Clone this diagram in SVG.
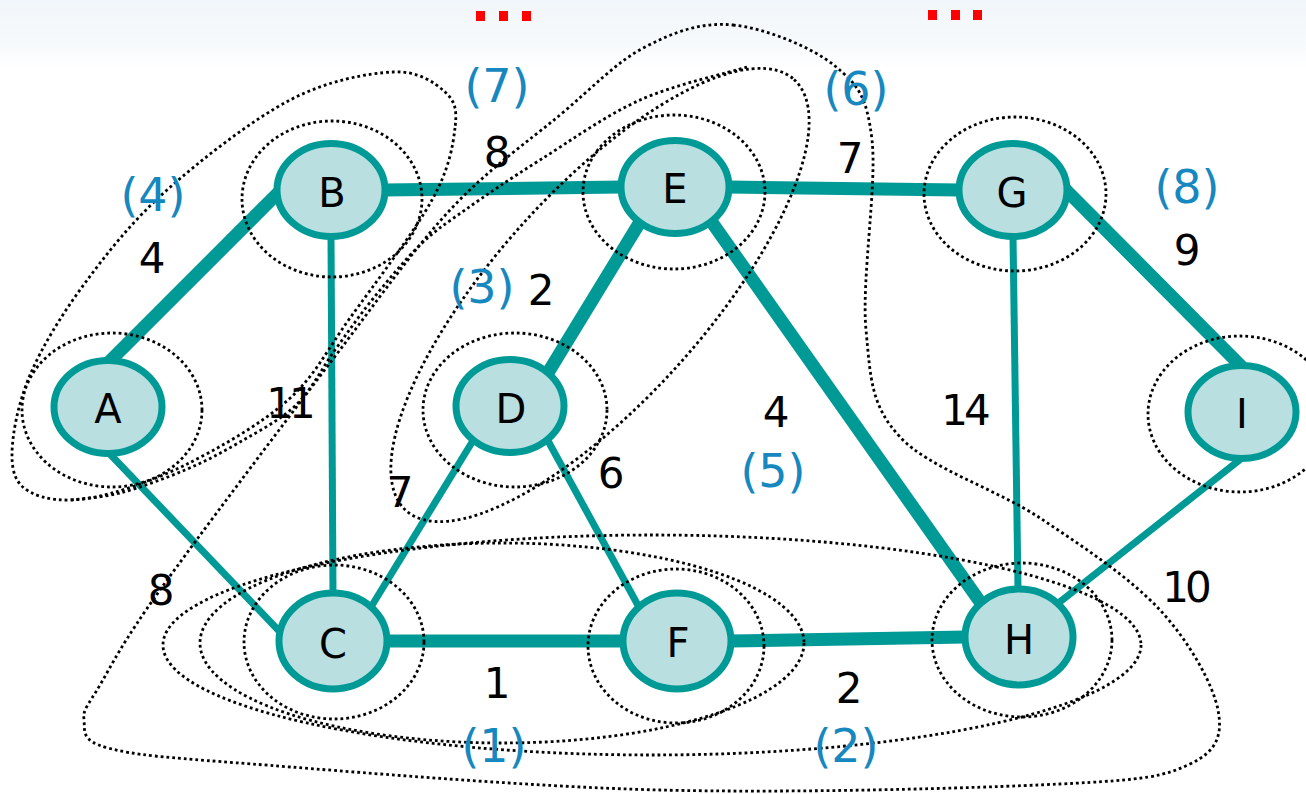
<svg xmlns="http://www.w3.org/2000/svg" width="1306" height="794" viewBox="0 0 1306 794">
<defs>
<linearGradient id="bg" x1="0" y1="0" x2="0" y2="1">
<stop offset="0" stop-color="#f1f6fa"/>
<stop offset="0.65" stop-color="#f7fafc"/>
<stop offset="1" stop-color="#ffffff"/>
</linearGradient>
<style>
.dot{fill:none;stroke:#000;stroke-width:2.8;stroke-dasharray:2.8 3}
.thick{stroke:#009a96;stroke-width:13;fill:none}
.thin{stroke:#009a96;stroke-width:7;fill:none}
.node ellipse{fill:#b9dfe1;stroke:#009a96;stroke-width:7}
.node text{font-family:"DejaVu Sans",sans-serif;font-size:40px;fill:#000;text-anchor:middle}
.w{font-family:"DejaVu Sans",sans-serif;font-size:42px;fill:#000;text-anchor:middle}
.w2{letter-spacing:-4px}
.s{font-family:"DejaVu Sans",sans-serif;font-size:46px;fill:#1787bf;text-anchor:middle}
.red{fill:#ff0000}
</style>
</defs>
<rect width="1306" height="794" fill="#ffffff"/>
<rect width="1306" height="70" fill="url(#bg)"/>
<g id="marks">
<rect class="red" x="476" y="11" width="9" height="10"/>
<rect class="red" x="499" y="11" width="9" height="10"/>
<rect class="red" x="522" y="11" width="9" height="10"/>
<rect class="red" x="928" y="10" width="9" height="10"/>
<rect class="red" x="951" y="10" width="9" height="10"/>
<rect class="red" x="973" y="10" width="9" height="10"/>
</g>
<g id="connectors">
<line class="thick" x1="108" y1="363" x2="281" y2="190"/>
<line class="thick" x1="384" y1="190" x2="622" y2="187"/>
<line class="thick" x1="728" y1="187" x2="960" y2="190"/>
<line class="thick" x1="640" y1="222" x2="546" y2="376"/>
<line class="thick" x1="711" y1="221" x2="983" y2="606"/>
<line class="thick" x1="1064" y1="188" x2="1242" y2="367"/>
<line class="thick" x1="386" y1="641" x2="624" y2="641"/>
<line class="thick" x1="730" y1="641" x2="966" y2="637"/>
<line class="thin" x1="331" y1="236" x2="333" y2="595"/>
<line class="thin" x1="108" y1="452" x2="281" y2="633"/>
<line class="thin" x1="371" y1="607" x2="474" y2="439"/>
<line class="thin" x1="547" y1="439" x2="640" y2="609"/>
<line class="thin" x1="1013" y1="236" x2="1018" y2="590"/>
<line class="thin" x1="1242" y1="458" x2="1056" y2="605"/>
</g>
<g id="contours">
<ellipse class="dot" cx="112" cy="410" rx="90" ry="77"/>
<ellipse class="dot" cx="332" cy="199" rx="90" ry="78"/>
<ellipse class="dot" cx="674" cy="192" rx="91" ry="77"/>
<ellipse class="dot" cx="515" cy="410" rx="92" ry="77"/>
<ellipse class="dot" cx="1015" cy="194" rx="91" ry="77"/>
<ellipse class="dot" cx="1240" cy="414" rx="92" ry="78"/>
<ellipse class="dot" cx="334" cy="642" rx="90" ry="77"/>
<ellipse class="dot" cx="676" cy="646" rx="88" ry="77"/>
<ellipse class="dot" cx="1022" cy="640" rx="90" ry="77"/>
<ellipse class="dot" cx="502" cy="643" rx="302" ry="100"/>
<ellipse class="dot" cx="652" cy="645" rx="489" ry="110"/>
<ellipse class="dot" cx="600" cy="295" rx="290" ry="105" transform="rotate(-48 600 295)"/>
<path class="dot" d="M455,128 C452.8,146 449.5,168.3 432,200 C414.5,231.7 374,284.7 350,318 C326,351.3 315.5,375.5 288,400 C260.5,424.5 218,448.7 185,465 C152,481.3 115.8,493.5 90,498 C64.2,502.5 43,499.2 30,492 C17,484.8 12,474.5 12,455 C12,435.5 17.8,403.7 30,375 C42.2,346.3 62.2,313.8 85,283 C107.8,252.2 132.8,220.5 167,190 C201.2,159.5 252.3,119.7 290,100 C327.7,80.3 367.2,73.3 393,72 C418.8,70.7 434.7,82.7 445,92 C455.3,101.3 457.2,110 455,128 Z"/>
<path class="dot" d="M747,67 C729.2,72.5 674.5,84.5 640,100 C605.5,115.5 569.2,141.7 540,160 C510.8,178.3 485,195.8 465,210 C445,224.2 435.5,230 420,245 C404.5,260 386.2,282.5 372,300 C357.8,317.5 347.7,332.5 335,350 C322.3,367.5 311.8,389.7 296,405 C280.2,420.3 258.5,431.2 240,442 C221.5,452.8 205,461.5 185,470 C165,478.5 139.2,488 120,493 C100.8,498 78.3,498.8 70,500"/>
<path class="dot" d="M733,25 C764.7,28.2 811.8,46.8 835,66 C858.2,85.2 866.8,96 872,140 C877.2,184 861.3,280.5 866,330 C870.7,379.5 871,405.7 900,437 C929,468.3 996.7,489.2 1040,518 C1083.3,546.8 1130.3,578 1160,610 C1189.7,642 1213,684.3 1218,710 C1223,735.7 1216.3,751.7 1190,764 C1163.7,776.3 1148.3,779.7 1060,784 C971.7,788.3 794.7,793.3 660,790 C525.3,786.7 344,771 252,764 C160,757 136,755.3 108,748 C80,740.7 85.3,730.5 84,720 C82.7,709.5 87.3,706.7 100,685 C112.7,663.3 121.7,643.7 160,590 C198.3,536.3 281.7,426.3 330,363 C378.3,299.7 411.7,251.3 450,210 C488.3,168.7 527.5,142.2 560,115 C592.5,87.8 616.2,62 645,47 C673.8,32 701.3,21.8 733,25 Z"/>
</g>
<g id="node-A" class="node"><ellipse cx="108" cy="407" rx="54" ry="46.5"/><text x="108" y="423">A</text></g>
<g id="node-B" class="node"><ellipse cx="331" cy="190" rx="54" ry="46.5"/><text x="332" y="207">B</text></g>
<g id="node-E" class="node"><ellipse cx="675" cy="187" rx="54" ry="46.5"/><text x="675" y="203">E</text></g>
<g id="node-G" class="node"><ellipse cx="1013" cy="190" rx="54" ry="46.5"/><text x="1012" y="207">G</text></g>
<g id="node-D" class="node"><ellipse cx="510" cy="406" rx="54" ry="46.5"/><text x="511" y="423">D</text></g>
<g id="node-I" class="node"><ellipse cx="1242" cy="412" rx="54" ry="46.5"/><text x="1242" y="428">I</text></g>
<g id="node-C" class="node"><ellipse cx="333" cy="641" rx="54" ry="48"/><text x="333" y="658">C</text></g>
<g id="node-F" class="node"><ellipse cx="677" cy="641" rx="54" ry="48"/><text x="678" y="657">F</text></g>
<g id="node-H" class="node"><ellipse cx="1019" cy="637" rx="54" ry="48"/><text x="1019" y="654">H</text></g>
<g id="weights">
<text class="w" x="152" y="273">4</text>
<text class="w" x="497" y="167">8</text>
<text class="w" x="850" y="173">7</text>
<text class="w" x="1187" y="265">9</text>
<text class="w" x="541" y="305">2</text>
<text class="w w2" x="289" y="418">11</text>
<text class="w" x="400" y="507">7</text>
<text class="w" x="611" y="488">6</text>
<text class="w" x="776" y="427">4</text>
<text class="w w2" x="964" y="425">14</text>
<text class="w" x="161" y="605">8</text>
<text class="w w2" x="1185" y="602">10</text>
<text class="w" x="497" y="698">1</text>
<text class="w" x="849" y="703">2</text>
</g>
<g id="steps">
<text class="s" x="153" y="211">(4)</text>
<text class="s" x="497" y="102">(7)</text>
<text class="s" x="856" y="105">(6)</text>
<text class="s" x="1187" y="203">(8)</text>
<text class="s" x="482" y="303">(3)</text>
<text class="s" x="773" y="487">(5)</text>
<text class="s" x="494" y="762">(1)</text>
<text class="s" x="846" y="762">(2)</text>
</g>
</svg>
